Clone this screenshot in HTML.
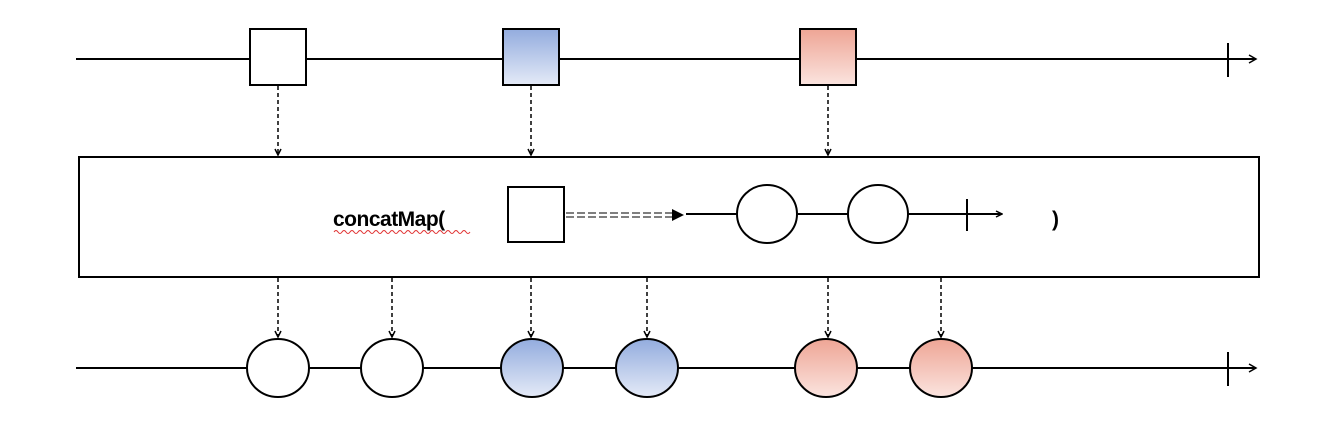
<!DOCTYPE html>
<html><head><meta charset="utf-8"><style>
html,body{margin:0;padding:0;background:#fff;width:1336px;height:428px;overflow:hidden}
</style></head><body>
<svg width="1336" height="428" viewBox="0 0 1336 428" xmlns="http://www.w3.org/2000/svg">
<defs>
<linearGradient id="b" x1="0" y1="0" x2="0" y2="1"><stop offset="0" stop-color="#93acde"/><stop offset="1" stop-color="#e4eaf7"/></linearGradient>
<linearGradient id="r" x1="0" y1="0" x2="0" y2="1"><stop offset="0" stop-color="#eea595"/><stop offset="1" stop-color="#fbe4df"/></linearGradient>
<marker id="ah" markerWidth="8" markerHeight="8" refX="7" refY="4" orient="auto" markerUnits="userSpaceOnUse"><path d="M1,1 L7,4 L1,7" fill="none" stroke="#000" stroke-width="1.5"/></marker>
<marker id="ad" markerWidth="10" markerHeight="10" refX="8" refY="5" orient="auto" markerUnits="userSpaceOnUse"><path d="M1,1 L8,5 L1,9" fill="none" stroke="#000" stroke-width="1.5"/></marker>
</defs>
<g stroke="#000" stroke-width="2" fill="none">
<!-- top line -->
<line x1="76" y1="59" x2="1256" y2="59" marker-end="url(#ad)"/>
<line x1="1228" y1="43" x2="1228" y2="77"/>
<!-- bottom line -->
<line x1="76" y1="368" x2="1256" y2="368" marker-end="url(#ad)"/>
<line x1="1228" y1="352" x2="1228" y2="386"/>
</g>
<g stroke="#000" stroke-width="2">
<rect x="250" y="29" width="56" height="56" fill="#fff"/>
<rect x="503" y="29" width="56" height="56" fill="url(#b)"/>
<rect x="800" y="29" width="56" height="56" fill="url(#r)"/>
</g>
<g stroke="#000" stroke-width="1.5" stroke-dasharray="4,3" fill="none">
<line x1="278" y1="86" x2="278" y2="155" marker-end="url(#ah)"/>
<line x1="531" y1="86" x2="531" y2="155" marker-end="url(#ah)"/>
<line x1="828" y1="86" x2="828" y2="155" marker-end="url(#ah)"/>
<line x1="278" y1="278" x2="278" y2="337" marker-end="url(#ah)"/>
<line x1="392" y1="278" x2="392" y2="337" marker-end="url(#ah)"/>
<line x1="531" y1="278" x2="531" y2="337" marker-end="url(#ah)"/>
<line x1="647" y1="278" x2="647" y2="337" marker-end="url(#ah)"/>
<line x1="828" y1="278" x2="828" y2="337" marker-end="url(#ah)"/>
<line x1="941" y1="278" x2="941" y2="337" marker-end="url(#ah)"/>
</g>
<rect x="79" y="157" width="1180" height="120" fill="#fff" stroke="#000" stroke-width="2"/>
<text x="333" y="226" font-family="Liberation Sans, sans-serif" font-weight="bold" font-size="21" fill="#000" letter-spacing="-0.5">concatMap(</text>
<path d="M334,232 q2,-3 4,0 t4,0 t4,0 t4,0 t4,0 t4,0 t4,0 t4,0 t4,0 t4,0 t4,0 t4,0 t4,0 t4,0 t4,0 t4,0 t4,0 t4,0 t4,0 t4,0 t4,0 t4,0 t4,0 t4,0 t4,0 t4,0 t4,0 t4,0 t4,0 t4,0 t4,0 t4,0 t4,0 t4,0" fill="none" stroke="#e03030" stroke-width="1"/>
<text x="1052" y="226" font-family="Liberation Sans, sans-serif" font-weight="bold" font-size="21" fill="#000">)</text>
<rect x="508" y="187" width="56" height="55" fill="#fff" stroke="#000" stroke-width="2"/>
<g stroke="#555" stroke-width="1.5" stroke-dasharray="8,3">
<line x1="566" y1="213" x2="672" y2="213"/>
<line x1="566" y1="217" x2="672" y2="217"/>
</g>
<path d="M672,209 L684,215 L672,221 Z" fill="#000"/>
<g stroke="#000" stroke-width="2" fill="none">
<line x1="686" y1="214" x2="738" y2="214"/>
<line x1="798" y1="214" x2="848" y2="214"/>
<line x1="908" y1="214" x2="1002" y2="214" marker-end="url(#ah)"/>
<line x1="967" y1="199" x2="967" y2="231"/>
</g>
<g stroke="#000" stroke-width="2">
<ellipse cx="767" cy="214" rx="30" ry="29" fill="#fff"/>
<ellipse cx="878" cy="214" rx="30" ry="29" fill="#fff"/>
<ellipse cx="278" cy="368" rx="31" ry="29" fill="#fff"/>
<ellipse cx="392" cy="368" rx="31" ry="29" fill="#fff"/>
<ellipse cx="532" cy="368" rx="31" ry="29" fill="url(#b)"/>
<ellipse cx="647" cy="368" rx="31" ry="29" fill="url(#b)"/>
<ellipse cx="826" cy="368" rx="31" ry="29" fill="url(#r)"/>
<ellipse cx="941" cy="368" rx="31" ry="29" fill="url(#r)"/>
</g>
</svg>
</body></html>
